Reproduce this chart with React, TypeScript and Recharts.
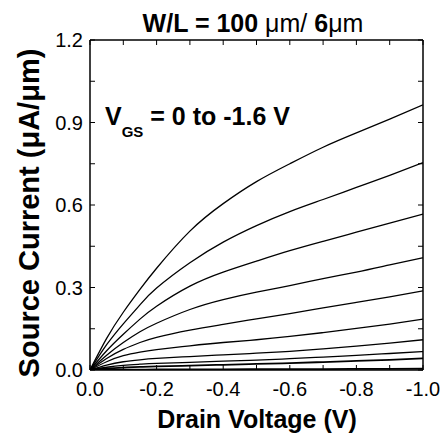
import { LineChart, Line, XAxis, YAxis } from 'recharts';

// drain voltage sweep (V)
const drainVoltage = [0, -0.05, -0.1, -0.15, -0.2, -0.3, -0.4, -0.5, -0.6, -0.7, -0.8, -0.9, -1.0];

// source current (uA/um), one list per gate voltage
const vgsM16 = [0, 0.115, 0.21, 0.293, 0.37, 0.505, 0.605, 0.685, 0.75, 0.81, 0.862, 0.912, 0.964];
const vgsM14 = [0, 0.092, 0.168, 0.237, 0.298, 0.39, 0.465, 0.525, 0.576, 0.62, 0.664, 0.708, 0.754];
const vgsM12 = [0, 0.07, 0.13, 0.185, 0.232, 0.305, 0.356, 0.396, 0.434, 0.468, 0.501, 0.534, 0.567];
const vgsM10 = [0, 0.054, 0.1, 0.139, 0.17, 0.22, 0.256, 0.283, 0.307, 0.332, 0.356, 0.382, 0.408];
const vgsM08 = [0, 0.042, 0.075, 0.1, 0.119, 0.145, 0.166, 0.186, 0.205, 0.226, 0.246, 0.266, 0.288];
const vgsM06 = [0, 0.03, 0.052, 0.065, 0.074, 0.088, 0.1, 0.11, 0.122, 0.136, 0.151, 0.167, 0.185];
const vgsM04 = [0, 0.018, 0.03, 0.037, 0.042, 0.049, 0.055, 0.061, 0.068, 0.077, 0.087, 0.098, 0.11];
const vgsM02 = [0, 0.01, 0.017, 0.021, 0.024, 0.028, 0.032, 0.036, 0.041, 0.047, 0.053, 0.06, 0.067];
const vgs00 = [0, 0.006, 0.009, 0.011, 0.013, 0.016, 0.019, 0.022, 0.025, 0.029, 0.033, 0.037, 0.042];
const vgsOff = [0, 0.001, 0.001, 0.001, 0.002, 0.002, 0.002, 0.003, 0.003, 0.003, 0.004, 0.004, 0.005];

const seriesList = [vgsM16, vgsM14, vgsM12, vgsM10, vgsM08, vgsM06, vgsM04, vgsM02, vgs00, vgsOff];

const xTicks = [0, -0.1, -0.2, -0.3, -0.4, -0.5, -0.6, -0.7, -0.8, -0.9, -1.0];
const yTicks = [0, 0.15, 0.3, 0.45, 0.6, 0.75, 0.9, 1.05, 1.2];

const data = drainVoltage.map((v, i) => {
  const row: Record<string, number> = { v };
  seriesList.forEach((s, k) => {
    row[`s${k}`] = s[i];
  });
  return row;
});

const FONT = '"Liberation Sans", Arial, sans-serif';

const xFmt = (v: number) => (Math.round(Math.abs(v) * 10) % 2 === 0 ? v.toFixed(1) : '');
const yFmt = (v: number) => (Math.round(v / 0.15) % 2 === 0 ? v.toFixed(1) : '');
const none = () => '';

export default function App() {
  const tickStyle = { fontSize: 20, fill: '#000', fontFamily: FONT };
  const axisLine = { stroke: '#000', strokeWidth: 1.5 };
  const tickLine = { stroke: '#000', strokeWidth: 1 };
  const last = seriesList.length - 1;

  return (
    <div style={{ position: 'absolute', left: 0, top: 0, width: 448, height: 437, background: '#fff' }}>
      <LineChart width={448} height={437} data={data} margin={{ top: 39, right: 20, bottom: 27, left: 40 }}>
        <XAxis
          dataKey="v"
          type="number"
          domain={[-1, 0]}
          reversed
          allowDataOverflow
          ticks={xTicks}
          interval={0}
          tickFormatter={xFmt}
          tickSize={-5}
          tickMargin={17}
          height={40}
          tick={tickStyle}
          axisLine={axisLine}
          tickLine={tickLine}
        />
        <XAxis
          xAxisId="top"
          dataKey="v"
          orientation="top"
          type="number"
          domain={[-1, 0]}
          reversed
          allowDataOverflow
          ticks={xTicks}
          interval={0}
          tickFormatter={none}
          tickSize={-5}
          height={1}
          axisLine={axisLine}
          tickLine={tickLine}
        />
        <YAxis
          type="number"
          domain={[0, 1.2]}
          allowDataOverflow
          ticks={yTicks}
          interval={0}
          tickFormatter={yFmt}
          tickSize={-5}
          tickMargin={12}
          width={50}
          tick={tickStyle}
          axisLine={axisLine}
          tickLine={tickLine}
        />
        <YAxis
          yAxisId="right"
          orientation="right"
          type="number"
          domain={[0, 1.2]}
          allowDataOverflow
          ticks={yTicks}
          interval={0}
          tickFormatter={none}
          tickSize={-5}
          width={5}
          axisLine={axisLine}
          tickLine={tickLine}
        />
        {seriesList.map((_, k) => (
          <Line
            key={k}
            dataKey={`s${k}`}
            xAxisId={k === last ? 'top' : 0}
            yAxisId={k === last ? 'right' : 0}
            type="natural"
            stroke="#000"
            strokeWidth={k >= last - 1 ? 1.8 : 1.3}
            dot={false}
            isAnimationActive={false}
          />
        ))}
      </LineChart>
      <svg
        width={448}
        height={437}
        style={{ position: 'absolute', left: 0, top: 0, pointerEvents: 'none' }}
      >
        <text x={253} y={32} textAnchor="middle" fontSize={25} fontWeight="bold" fontFamily={FONT}>
          W/L = 100 <tspan fontWeight="normal">μm/</tspan> 6<tspan fontWeight="normal">μm</tspan>
        </text>
        <text x={105} y={125} fontSize={25} fontWeight="bold" fontFamily={FONT}>
          V
          <tspan fontSize={15} dy={12}>GS</tspan>
          <tspan dy={-12}> = 0 to -1.6 V</tspan>
        </text>
        <text x={257} y={428} textAnchor="middle" fontSize={25} fontWeight="bold" fontFamily={FONT}>
          Drain Voltage (V)
        </text>
        <text
          x={39}
          y={213}
          textAnchor="middle"
          fontSize={29}
          fontWeight="bold"
          fontFamily={FONT}
          transform="rotate(-90 39 213)"
        >
          Source Current (μA/μm)
        </text>
      </svg>
    </div>
  );
}
